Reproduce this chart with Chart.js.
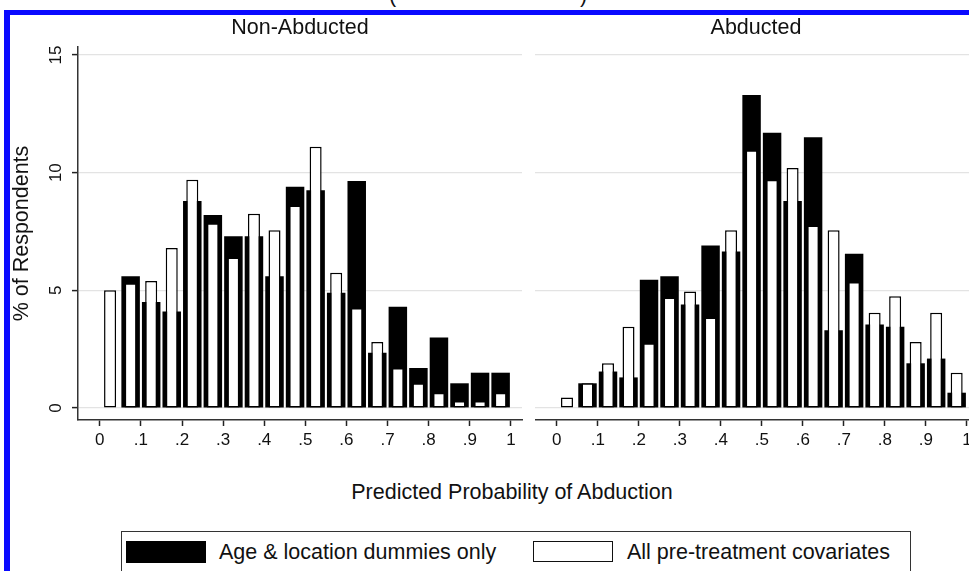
<!DOCTYPE html>
<html>
<head>
<meta charset="utf-8">
<script src="https://cdn.jsdelivr.net/npm/chart.js@4.4.1/dist/chart.umd.min.js"></script>
<style>
  body { margin: 0; width: 969px; height: 571px; overflow: hidden; background: #fff; position: relative;
         font-family: 'Liberation Sans', Arial, sans-serif; color: #111; }
  .abs { position: absolute; }
  .frame { left: 4px; top: 10px; width: 1000px; height: 600px; border-left: 6px solid #0a0aff; border-top: 5px solid #0a0aff; }
  .txt { font-size: 21.5px; line-height: 24px; white-space: nowrap; text-align: center; }
  .legend { left: 121px; top: 531px; width: 788px; height: 60px; border: 1.5px solid #333; }
</style>
</head>
<body>
<div class="abs frame"></div>
<div class="abs txt" style="left:389px; top:-17px;">(</div>
<div class="abs txt" style="left:580px; top:-17px;">)</div>

<canvas id="left" class="abs" width="524" height="460" style="left:0; top:0;"></canvas>
<canvas id="right" class="abs" width="443" height="460" style="left:535px; top:0;"></canvas>

<div class="abs txt" style="left:150px; width:300px; top:15px;">Non-Abducted</div>
<div class="abs txt" style="left:606px; width:300px; top:15px;">Abducted</div>
<div class="abs txt" style="left:262px; width:500px; top:480px;">Predicted Probability of Abduction</div>

<div class="abs legend"></div>
<div class="abs" style="left:126px; top:541px; width:80px; height:22px; background:#000;"></div>
<div class="abs txt" style="left:219px; top:540px; text-align:left;">Age &amp; location dummies only</div>
<div class="abs" style="left:533px; top:541px; width:78px; height:19px; border:1.5px solid #111; background:#fff;"></div>
<div class="abs txt" style="left:627px; top:540px; text-align:left;">All pre-treatment covariates</div>

<script>
// bin centres (bins of width .05)
const binCenters = [0.025, 0.075, 0.125, 0.175, 0.225, 0.275, 0.325, 0.375, 0.425, 0.475,
                    0.525, 0.575, 0.625, 0.675, 0.725, 0.775, 0.825, 0.875, 0.925, 0.975];

// % of respondents, "Age & location dummies only"
const nonAbductedAge = [0, 5.6, 4.5, 4.1, 8.8, 8.2, 7.3, 7.3, 5.6, 9.4, 9.25, 4.9, 9.65, 2.35, 4.3, 1.7, 3.0, 1.05, 1.5, 1.5];
const abductedAge = [0, 1.05, 1.55, 1.3, 5.45, 5.6, 4.4, 6.9, 6.65, 13.3, 11.7, 8.8, 11.5, 3.3, 6.55, 3.55, 3.45, 1.9, 2.1, 0.65];

// % of respondents, "All pre-treatment covariates"
const nonAbductedAll = [5.0, 5.3, 5.4, 6.8, 9.7, 7.85, 6.4, 8.25, 7.55, 8.6, 11.1, 5.75, 4.25, 2.8, 1.7, 1.05, 0.65, 0.3, 0.3, 0.65];
const abductedAll = [0.45, 1.05, 1.9, 3.45, 2.75, 4.7, 4.95, 3.85, 7.55, 10.95, 9.7, 10.2, 7.75, 7.55, 5.35, 4.05, 4.75, 2.8, 4.05, 1.5];

const xTickValues = [0, 0.1, 0.2, 0.3, 0.4, 0.5, 0.6, 0.7, 0.8, 0.9, 1];
const xTickLabels = ['0', '.1', '.2', '.3', '.4', '.5', '.6', '.7', '.8', '.9', '1'];
const yTickValues = [0, 5, 10, 15];
const yTickLabels = ['0', '5', '10', '15'];

Chart.defaults.font.family = "'Liberation Sans', Arial, sans-serif";
Chart.defaults.color = '#111';

function pts(vals) {
  return binCenters.map((c, i) => ({ x: c, y: vals[i] }));
}

function makePanel(id, ageVals, allVals, showY) {
  return new Chart(document.getElementById(id), {
    type: 'bar',
    data: {
      datasets: [
        { label: 'All pre-treatment covariates', data: pts(allVals), order: 1,
          backgroundColor: '#fff', borderColor: '#000', borderWidth: 1.5, borderSkipped: false,
          grouped: false, categoryPercentage: 1, barPercentage: 0.585 },
        { label: 'Age & location dummies only', data: pts(ageVals), order: 2,
          backgroundColor: '#000', borderWidth: 0,
          grouped: false, categoryPercentage: 1, barPercentage: 0.9 }
      ]
    },
    options: {
      responsive: false,
      animation: false,
      layout: { padding: { top: 47, left: 0, right: showY ? 2 : 0, bottom: 0 } },
      plugins: { legend: { display: false }, tooltip: { enabled: false } },
      scales: {
        x: {
          type: 'linear', min: -0.053, max: 1.027, offset: false,
          afterBuildTicks: s => { s.ticks = xTickValues.map(v => ({ value: v })); },
          afterFit: s => { s.height = 40; },
          ticks: { callback: (v, i) => xTickLabels[i], font: { size: 17 }, padding: 4, maxRotation: 0 },
          grid: { offset: false, drawOnChartArea: false, tickLength: 6, tickColor: '#222', tickWidth: 1.5 },
          border: { color: '#333', width: 1.5 }
        },
        y: {
          min: -0.51, max: 15.34,
          afterBuildTicks: s => { s.ticks = yTickValues.map(v => ({ value: v })); },
          afterFit: s => { s.width = showY ? 78 : 0; },
          ticks: { display: showY, callback: (v, i) => yTickLabels[i], font: { size: 17 },
                   minRotation: 90, maxRotation: 90, crossAlign: 'center', padding: 6 },
          grid: { color: '#e3e3e3', lineWidth: 1.2, drawTicks: showY, tickLength: 6, tickColor: '#222', tickWidth: 1.5 },
          border: { display: showY, color: '#333', width: 1.5 },
          title: { display: showY, text: '% of Respondents', font: { size: 21.5 }, padding: { top: 9, bottom: 0 } }
        }
      }
    }
  });
}

makePanel('left', nonAbductedAge, nonAbductedAll, true);
makePanel('right', abductedAge, abductedAll, false);
</script>
</body>
</html>
